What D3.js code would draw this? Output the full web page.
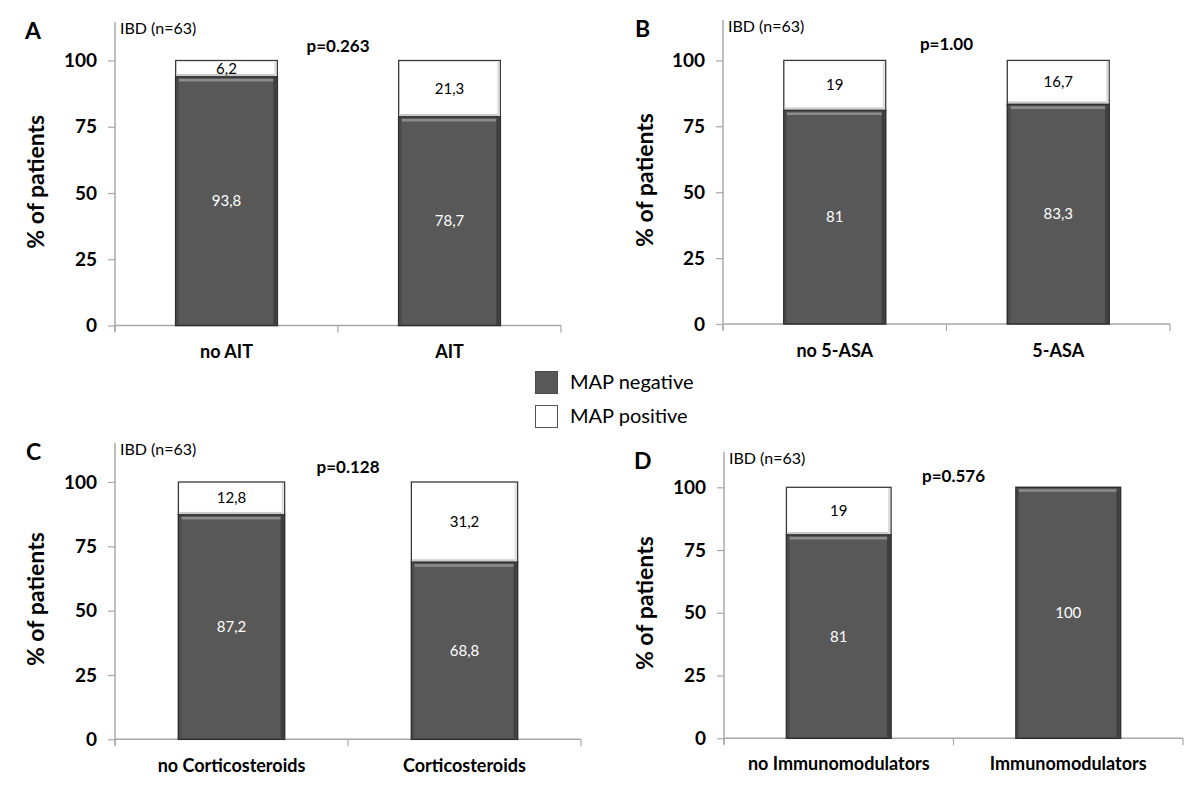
<!DOCTYPE html>
<html>
<head>
<meta charset="utf-8">
<script src="https://cdn.jsdelivr.net/npm/d3@7"></script>
<style>
  html, body { margin: 0; padding: 0; background: #ffffff; }
  svg { display: block; font-family: "Lato", "Open Sans", sans-serif; }
</style>
</head>
<body>
<svg id="chart" width="1200" height="787"></svg>
<script>
// ---------------- data ----------------
const panelLetters = ["A", "B", "C", "D"];
const categories = [
  ["no AIT", "AIT"],
  ["no 5-ASA", "5-ASA"],
  ["no Corticosteroids", "Corticosteroids"],
  ["no Immunomodulators", "Immunomodulators"]
];
const mapNegative = [
  [93.8, 78.7],
  [81, 83.3],
  [87.2, 68.8],
  [81, 100]
];
const mapPositive = [
  [6.2, 21.3],
  [19, 16.7],
  [12.8, 31.2],
  [19, 0]
];
const pValues = ["p=0.263", "p=1.00", "p=0.128", "p=0.576"];
const sampleLabel = "IBD (n=63)";
const yTicks = [0, 25, 50, 75, 100];
const yTitle = "% of patients";
const seriesNames = ["MAP negative", "MAP positive"];

// ---------------- layout ----------------
const layout = [
  { left: 115, right: 561,  y0: 325.5, y100: 60.5,  top: 22,  letterX: 25,  titleX: 36,  catY: 358 },
  { left: 723, right: 1170, y0: 324,   y100: 60.4,  top: 20,  letterX: 635, titleX: 645, catY: 357 },
  { left: 115, right: 581,  y0: 739.3, y100: 482,   top: 443, letterX: 26,  titleX: 36,  catY: 772 },
  { left: 724, right: 1183, y0: 738.3, y100: 487.3, top: 452, letterX: 634, titleX: 645, catY: 770 }
];

const colors = { neg: "#585858", negStroke: "#2e2e2e", pos: "#ffffff", posStroke: "#3a3a3a", axis: "#a8a8a8" };
const fmt = v => String(v).replace(".", ",");

const svg = d3.select("#chart");

panelLetters.forEach((letter, i) => {
  const L = layout[i];
  const g = svg.append("g");
  const y = d3.scaleLinear().domain([0, 100]).range([L.y0, L.y100]);
  const x = d3.scaleBand().domain(categories[i]).range([L.left, L.right])
    .paddingInner(0.544).paddingOuter(0.272);

  // y axis
  const yAxis = d3.axisLeft(y).tickValues(yTicks).tickSize(7).tickPadding(11);
  const ya = g.append("g").attr("transform", `translate(${L.left},0)`).call(yAxis);
  ya.select(".domain").remove();
  ya.selectAll(".tick line").attr("stroke", colors.axis).attr("stroke-width", 1.2);
  ya.selectAll(".tick text").attr("font-size", 19).attr("font-weight", "bold")
    .attr("fill", "#000").attr("font-family", "Lato, sans-serif");
  g.append("line").attr("x1", L.left).attr("x2", L.left).attr("y1", L.top).attr("y2", L.y0 + 6)
    .attr("stroke", colors.axis).attr("stroke-width", 1.5);

  // x axis
  g.append("line").attr("x1", L.left).attr("x2", L.right).attr("y1", L.y0).attr("y2", L.y0)
    .attr("stroke", colors.axis).attr("stroke-width", 1.5);
  const boundaries = [L.left, (x(categories[i][0]) + x.bandwidth() / 2 + x(categories[i][1]) + x.bandwidth() / 2) / 2, L.right];
  g.selectAll(".xtick").data(boundaries).enter().append("line")
    .attr("x1", d => d).attr("x2", d => d).attr("y1", L.y0).attr("y2", L.y0 + 7)
    .attr("stroke", colors.axis).attr("stroke-width", 1.2);

  // category labels
  g.selectAll(".cat").data(categories[i]).enter().append("text")
    .attr("x", d => x(d) + x.bandwidth() / 2).attr("y", L.catY)
    .attr("text-anchor", "middle").attr("font-size", 18).attr("font-weight", "bold")
    .text(d => d);

  // bars
  const rows = categories[i].map((c, j) => ({ c, neg: mapNegative[i][j], pos: mapPositive[i][j] }));
  const bw = x.bandwidth();
  rows.forEach(r => {
    const bx = x(r.c);
    // positive (white) segment
    if (r.pos > 0) {
      g.append("rect").attr("x", bx).attr("y", y(r.neg + r.pos)).attr("width", bw)
        .attr("height", y(r.neg) - y(r.neg + r.pos))
        .attr("fill", colors.pos).attr("stroke", colors.posStroke).attr("stroke-width", 1.3);
      g.append("rect").attr("x", bx + 1).attr("y", y(r.neg) - 3).attr("width", bw - 2).attr("height", 2.5)
        .attr("fill", "#c9c9c9");
      g.append("rect").attr("x", bx + bw - 3).attr("y", y(r.neg + r.pos) + 1).attr("width", 2)
        .attr("height", y(r.neg) - y(r.neg + r.pos) - 2).attr("fill", "#dcdcdc");
    }
    // negative (dark) segment
    g.append("rect").attr("x", bx).attr("y", y(r.neg)).attr("width", bw)
      .attr("height", y(0) - y(r.neg))
      .attr("fill", colors.neg).attr("stroke", colors.negStroke).attr("stroke-width", 1.5);
    g.append("rect").attr("x", bx + 3).attr("y", y(r.neg) + 2).attr("width", bw - 6).attr("height", 2.5)
      .attr("fill", "#8c8c8c");
    g.append("rect").attr("x", bx + bw - 4).attr("y", y(r.neg) + 1).attr("width", 3)
      .attr("height", y(0) - y(r.neg) - 2).attr("fill", "#3e3e3e");
    g.append("rect").attr("x", bx + 1).attr("y", y(r.neg) + 1).attr("width", 2)
      .attr("height", y(0) - y(r.neg) - 2).attr("fill", "#4a4a4a");

    // value labels
    g.append("text").attr("x", bx + bw / 2).attr("y", (y(0) + y(r.neg)) / 2 + 5)
      .attr("text-anchor", "middle").attr("font-size", 15).attr("fill", "#ffffff")
      .text(fmt(r.neg));
    if (r.pos > 0) {
      g.append("text").attr("x", bx + bw / 2).attr("y", (y(r.neg) + y(r.neg + r.pos)) / 2 + 5)
        .attr("text-anchor", "middle").attr("font-size", 15).attr("fill", "#000")
        .text(fmt(r.pos));
    }
  });

  // texts
  g.append("text").attr("x", L.letterX).attr("y", L.top + 17)
    .attr("font-size", 23).attr("font-weight", "bold").text(letter);
  g.append("text").attr("x", L.left + 5).attr("y", L.top + 12)
    .attr("font-size", 16).text(sampleLabel);
  g.append("text").attr("x", boundaries[1]).attr("y", L.top + 30)
    .attr("text-anchor", "middle").attr("font-size", 17).attr("font-weight", "bold").text(pValues[i]);
  g.append("text").attr("transform", `translate(${L.titleX + 8},${(L.top + L.y0) / 2 + 8}) rotate(-90)`)
    .attr("text-anchor", "middle").attr("font-size", 23).attr("font-weight", "bold").text(yTitle);
});

// legend
const legend = svg.append("g").attr("transform", "translate(535,371)");
seriesNames.forEach((name, k) => {
  const row = legend.append("g").attr("transform", `translate(0,${k * 34})`);
  row.append("rect").attr("x", 0.5).attr("y", 0.5).attr("width", 22).attr("height", 22)
    .attr("fill", k === 0 ? colors.neg : colors.pos)
    .attr("stroke", k === 0 ? "#4a4a4a" : "#555").attr("stroke-width", 1);
  row.append("text").attr("x", 35).attr("y", 18).attr("font-size", 20).text(name);
});
</script>
</body>
</html>
